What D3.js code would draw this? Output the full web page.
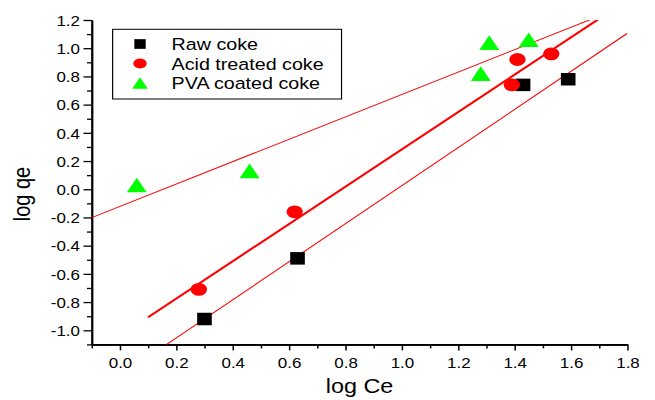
<!DOCTYPE html>
<html>
<head>
<meta charset="utf-8">
<script src="https://cdn.jsdelivr.net/npm/d3@7"></script>
<style>
  html, body { margin: 0; padding: 0; background: #fff; }
  svg { display: block; }
  text { font-family: "Liberation Sans", Arial, sans-serif; fill: #000; }
</style>
</head>
<body>
<svg id="chart" width="655" height="400" viewBox="0 0 560 400" preserveAspectRatio="none"></svg>
<script>
// Freundlich isotherm data: log qe vs log Ce
const rawX  = [0.30, 0.63, 1.43, 1.59];
const rawY  = [-0.92, -0.49, 0.74, 0.78];
const acidX = [0.28, 0.62, 1.39, 1.41, 1.53];
const acidY = [-0.71, -0.16, 0.74, 0.92, 0.96];
const pvaX  = [0.06, 0.46, 1.28, 1.31, 1.45];
const pvaY  = [0.03, 0.13, 0.82, 1.04, 1.06];

const seriesNames = ["Raw coke", "Acid treated coke", "PVA coated coke"];

// Linear fits (slope, intercept, x extent)
const fitSlope     = [1.350, 1.323, 0.794];
const fitIntercept = [-1.324, -1.040, -0.122];
const fitXStart    = [0.10, 0.10, -0.10];
const fitXEnd      = [1.80, 1.70, 1.80];

const xMajorTicks = [0.0, 0.2, 0.4, 0.6, 0.8, 1.0, 1.2, 1.4, 1.6, 1.8];
const xTickLabels = ["0.0", "0.2", "0.4", "0.6", "0.8", "1.0", "1.2", "1.4", "1.6", "1.8"];
const xMinorTicks = [-0.1, 0.1, 0.3, 0.5, 0.7, 0.9, 1.1, 1.3, 1.5, 1.7];
const yMajorTicks = [-1.0, -0.8, -0.6, -0.4, -0.2, 0.0, 0.2, 0.4, 0.6, 0.8, 1.0, 1.2];
const yTickLabels = ["-1.0", "-0.8", "-0.6", "-0.4", "-0.2", "0.0", "0.2", "0.4", "0.6", "0.8", "1.0", "1.2"];
const yMinorTicks = [-1.1, -0.9, -0.7, -0.5, -0.3, -0.1, 0.1, 0.3, 0.5, 0.7, 0.9, 1.1];

const svg = d3.select("#chart");

const x = d3.scaleLinear().domain([-0.1, 1.8]).range([78.4, 536.4]);
const y = d3.scaleLinear().domain([-1.1, 1.2]).range([344.4, 20]);

// clip region for the fit lines
svg.append("defs").append("clipPath").attr("id", "plotClip")
  .append("rect")
  .attr("x", x(-0.1)).attr("y", y(1.2))
  .attr("width", x(1.8) - x(-0.1)).attr("height", y(-1.1) - y(1.2));

// Axes: minor ticks first, then major ticks with labels
const gx = svg.append("g").attr("transform", `translate(0,${y(-1.1)})`);
gx.append("g").call(d3.axisBottom(x).tickValues(xMinorTicks).tickSize(4).tickSizeOuter(0).tickFormat(""));
gx.append("g").call(d3.axisBottom(x).tickValues(xMajorTicks).tickSize(6).tickSizeOuter(0)
  .tickFormat((d, i) => xTickLabels[i]));

const gy = svg.append("g").attr("transform", `translate(${x(-0.1)},0)`);
gy.append("g").call(d3.axisLeft(y).tickValues(yMinorTicks).tickSize(4).tickSizeOuter(0).tickFormat(""));
gy.append("g").call(d3.axisLeft(y).tickValues(yMajorTicks).tickSize(7).tickSizeOuter(0)
  .tickFormat((d, i) => yTickLabels[i]));

svg.selectAll(".domain").attr("stroke", "#000").attr("stroke-width", 1.6);
svg.selectAll(".tick line").attr("stroke", "#000").attr("stroke-width", 1.3);
gx.selectAll(".tick text").attr("font-size", 14.5).attr("y", 13).attr("dy", "0.71em")
  .style("font-family", "'Liberation Sans', Arial, sans-serif");
gy.selectAll(".tick text").attr("font-size", 14.5).attr("x", -10).attr("dy", "0.36em")
  .style("font-family", "'Liberation Sans', Arial, sans-serif");

// Axis titles
svg.append("text").attr("x", (x(-0.1) + x(1.8)) / 2).attr("y", 393)
  .attr("text-anchor", "middle").attr("font-size", 20).text("log Ce");
svg.append("text").attr("transform", "translate(25.5,194) rotate(-90)")
  .attr("text-anchor", "middle").attr("font-size", 20).text("log qe");

// Fit lines
const fitColors = ["#ff0000", "#ff0000", "#ff0000"];
const fitWidths = [1, 2, 1];
const lineGen = d3.line().x(d => x(d[0])).y(d => y(d[1]));
const plot = svg.append("g").attr("clip-path", "url(#plotClip)");
fitSlope.forEach((m, i) => {
  const pts = [fitXStart[i], fitXEnd[i]].map(v => [v, fitIntercept[i] + m * v]);
  plot.append("path").attr("d", lineGen(pts))
    .attr("fill", "none").attr("stroke", fitColors[i]).attr("stroke-width", fitWidths[i]);
});

// Marker shapes
function square(g, cx, cy, s) {
  g.append("rect").attr("x", cx - s / 2).attr("y", cy - s / 2).attr("width", s).attr("height", s).attr("fill", "#000");
}
function dot(g, cx, cy, rx, ry) {
  g.append("ellipse").attr("cx", cx).attr("cy", cy).attr("rx", rx).attr("ry", ry).attr("fill", "#ff0000");
}
function tri(g, cx, cy, w, h) {
  g.append("path")
    .attr("d", `M${cx},${cy - h / 2}L${cx + w / 2},${cy + h / 2}L${cx - w / 2},${cy + h / 2}Z`)
    .attr("fill", "#00ff00");
}

const marks = svg.append("g");
pvaX.forEach((v, i) => tri(marks, x(v), y(pvaY[i]), 17, 14.7));
rawX.forEach((v, i) => square(marks, x(v), y(rawY[i]), 12.5));
acidX.forEach((v, i) => dot(marks, x(v), y(acidY[i]), 7, 6.4));

// Legend
const lg = svg.append("g");
lg.append("rect").attr("x", 96.3).attr("y", 29.3).attr("width", 195.7).attr("height", 69.7)
  .attr("fill", "none").attr("stroke", "#000").attr("stroke-width", 1);
const rowY = [44, 63.5, 83];
square(lg, 119.7, rowY[0], 9.7);
dot(lg, 119.7, rowY[1], 5.7, 4.9);
tri(lg, 119.7, rowY[2], 13.4, 11.3);
seriesNames.forEach((name, i) => {
  lg.append("text")
    .attr("transform", `translate(146.7,${rowY[i] + 6}) scale(1.02,1)`)
    .attr("font-size", 16.5).text(name);
});
</script>
</body>
</html>
